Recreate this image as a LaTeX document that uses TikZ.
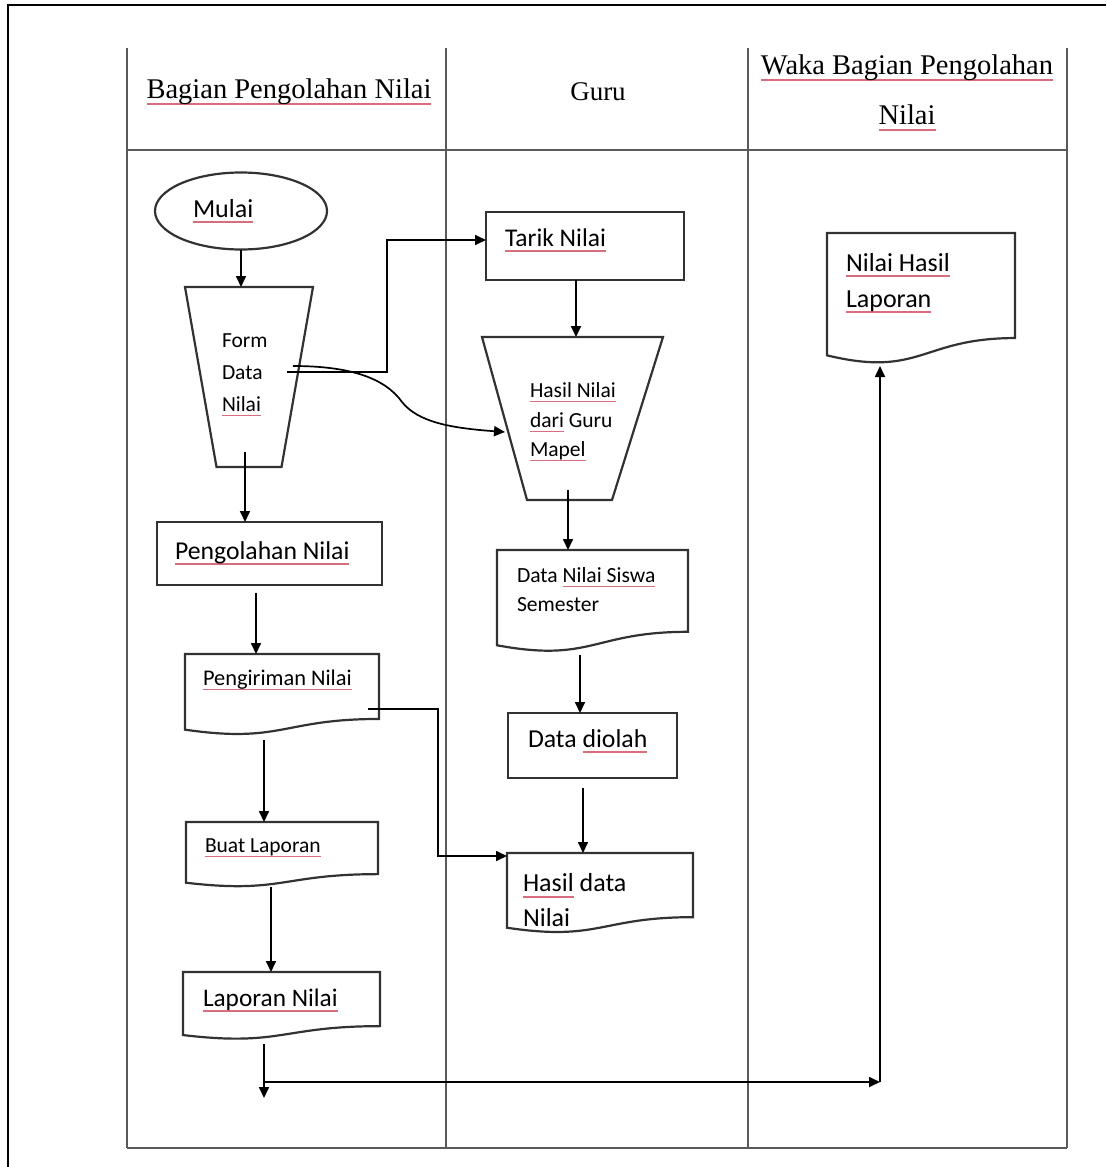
\documentclass[tikz,border=0pt]{standalone}
\usepackage{fontspec}
\setmainfont{Carlito}
\newfontfamily\hdrfont{Liberation Serif}
\usetikzlibrary{arrows.meta,shapes.geometric,calc}
\definecolor{squig}{RGB}{215,110,125}
\definecolor{lanegray}{RGB}{90,90,90}
\definecolor{outline}{RGB}{50,50,50}
% faint red underline under flagged words
\newsavebox\sqbox
\newcommand\sq[1]{\leavevmode\sbox\sqbox{#1}\rlap{\textcolor{squig}{\rule[-0.22em]{\wd\sqbox}{0.06em}}}\usebox\sqbox}

\begin{document}
\begin{tikzpicture}[x=1pt,y=-1pt,
  every node/.style={inner sep=0pt,outer sep=0pt},
  frameline/.style={line width=1.6pt,black},
  laneline/.style={line width=2.4pt,lanegray},
  shapeline/.style={line width=2.2pt,outline},
  box/.style={draw=outline,line width=2.2pt,rectangle},
  hold/.style={rectangle},
  conn/.style={line width=1.7pt,black,-{Triangle[length=11pt,width=10pt]}},
  hdr/.style={font=\hdrfont\fontsize{28.5}{50}\selectfont,align=center},
  lbl/.style={anchor=west,align=left,font=\fontsize{#1}{#1}\selectfont},
]
\useasboundingbox (0,0) rectangle (1106,1167);

% page frame
\draw[frameline] (8,1167) -- (8,5) -- (1106,5);

% swimlane grid
\draw[laneline] (127,48) -- (127,1148);
\draw[laneline] (446,48) -- (446,1148);
\draw[laneline] (748,48) -- (748,1148);
\draw[laneline] (1067,48) -- (1067,1148);
\draw[laneline] (127,150) -- (1067,150);
\draw[laneline] (127,1148) -- (1067,1148);

% lane headers
\node[hdr] (h1) at (289,92) {\sq{Bagian Pengolahan Nilai}};
\node[hdr,font=\hdrfont\fontsize{27}{30}\selectfont] (h2) at (598,92) {Guru};
\node[hdr] (h3) at (907,93) {\sq{Waka Bagian Pengolahan}\\\sq{Nilai}};

% shapes
\node[ellipse,draw=outline,line width=2.2pt,minimum width=172pt,minimum height=77pt] (mulai) at (241,211) {};
\node[hold,minimum width=128pt,minimum height=180pt] (form) at (249,377) {};
\node[box,minimum width=198pt,minimum height=68pt] (tarik) at (585,246) {};
\node[hold,minimum width=181pt,minimum height=163pt] (hnil) at (572.5,418.5) {};
\node[hold,minimum width=188pt,minimum height=131pt] (nhl) at (921,298.5) {};
\node[box,minimum width=225pt,minimum height=63pt] (peng) at (269.5,553.5) {};
\node[hold,minimum width=194pt,minimum height=81pt] (kirim) at (282,694.5) {};
\node[hold,minimum width=191pt,minimum height=102pt] (dns) at (592.5,601) {};
\node[box,minimum width=169pt,minimum height=65pt] (diolah) at (592.5,745.5) {};
\node[hold,minimum width=186pt,minimum height=80pt] (hdn) at (600,893) {};
\node[hold,minimum width=192pt,minimum height=65pt] (buat) at (282,854.5) {};
\node[hold,minimum width=197pt,minimum height=67.5pt] (lap) at (281.5,1005.75) {};

% manual input (trapezoid) outlines
\draw[shapeline] (form.north west) -- (form.north east) -- ([xshift=-31.5pt]form.south east) -- ([xshift=31.5pt]form.south west) -- cycle;
\draw[shapeline] (hnil.north west) -- (hnil.north east) -- ([xshift=-51pt]hnil.south east) -- ([xshift=45pt]hnil.south west) -- cycle;

% document outlines with wavy bottom edge
\foreach \n in {kirim,buat,lap,dns,hdn,nhl}
  \draw[shapeline] (\n.north west) -- (\n.north east)
    -- ($(\n.north east)!0.802!(\n.south east)$)
    .. controls ($(\n.north)!0.802!(\n.south)$) and ($(\n.north)!1.107!(\n.south)$)
    .. ($(\n.north west)!0.934!(\n.south west)$) -- cycle;

% labels
\node[lbl=26] (t-mulai) at (193,211) {\sq{Mulai}};
\node[lbl=21.5,font=\fontsize{21.5}{32}\selectfont] (t-form) at (222,375) {Form\\Data\\\sq{Nilai}};
\node[lbl=25.5] (t-tarik) at (505,240) {\sq{Tarik Nilai}};
\node[lbl=21.5,font=\fontsize{21.5}{29.5}\selectfont] (t-hnil) at (530,422) {\sq{Hasil Nilai}\\\sq{dari} Guru\\\sq{Mapel}};
\node[lbl=26,font=\fontsize{26}{36}\selectfont] (t-nhl) at (846,283) {\sq{Nilai Hasil}\\\sq{Laporan}};
\node[lbl=25.7] (t-peng) at (175,553) {\sq{Pengolahan Nilai}};
\node[lbl=22.4] (t-kirim) at (203,680) {\sq{Pengiriman Nilai}};
\node[lbl=21.6,font=\fontsize{21.6}{29}\selectfont] (t-dns) at (517,589.5) {Data \sq{Nilai Siswa}\\Semester};
\node[lbl=25.8] (t-diolah) at (528,741) {Data \sq{diolah}};
\node[lbl=21.5] (t-buat) at (205,848) {\sq{Buat Laporan}};
\node[lbl=26,font=\fontsize{26}{35}\selectfont] (t-hdn) at (523,900.5) {\sq{Hasil} data\\Nilai};
\node[lbl=25.3] (t-lap) at (203,1000) {\sq{Laporan Nilai}};

% junction points of the routed connectors
\coordinate (fa) at (287,372);
\coordinate (fb) at (293,366);
\coordinate (hn-in) at (505,432);
\coordinate (ka) at (368,709);
\coordinate (ja) at (264,1082);
\coordinate (jb) at (264,1098);
\coordinate (jc) at (880,1082);

% main vertical flow
\draw[conn] (mulai.south) -- (mulai.south |- form.north);
\draw[conn] ([xshift=-4pt,yshift=15pt]form.south) -- ([xshift=-4pt]form.south |- peng.north);
\draw[conn] ([xshift=-13.5pt,yshift=-8pt]peng.south) -- ([xshift=-13.5pt]peng.south |- kirim.north);
\draw[conn] ([xshift=-18pt,yshift=-5pt]kirim.south) -- ([xshift=-18pt]kirim.south |- buat.north);
\draw[conn] ([xshift=-11pt]buat.south) -- ([xshift=-11pt]buat.south |- lap.north);
\draw[conn] ([xshift=-17.5pt,yshift=-4pt]lap.south) -- (jb);
\draw[conn] (ja) -- (jc);
\draw[conn] (jc) -- ([yshift=-2pt]nhl.south -| jc);

\draw[conn] ([xshift=-9pt]tarik.south) -- ([xshift=-9pt]tarik.south |- hnil.north);
\draw[conn] ([xshift=-4.5pt,yshift=10pt]hnil.south) -- ([xshift=-4.5pt]hnil.south |- dns.north);
\draw[conn] ([xshift=-12.5pt,yshift=-3pt]dns.south) -- ([xshift=-12.5pt]dns.south |- diolah.north);
\draw[conn] ([xshift=-9.5pt,yshift=-10pt]diolah.south) -- ([xshift=-9.5pt]diolah.south |- hdn.north);

% cross-lane connectors
\draw[conn] (fa) -- ++(100,0) |- ([yshift=6pt]tarik.west);
\draw[conn] (fb) .. controls (350,366) and (385,378) .. (402,402)
  .. controls (418,422) and (450,428) .. (hn-in);
\draw[conn] (ka) -- ++(70,0) |- ([yshift=-3pt]hdn.north west);

\end{tikzpicture}
\end{document}
